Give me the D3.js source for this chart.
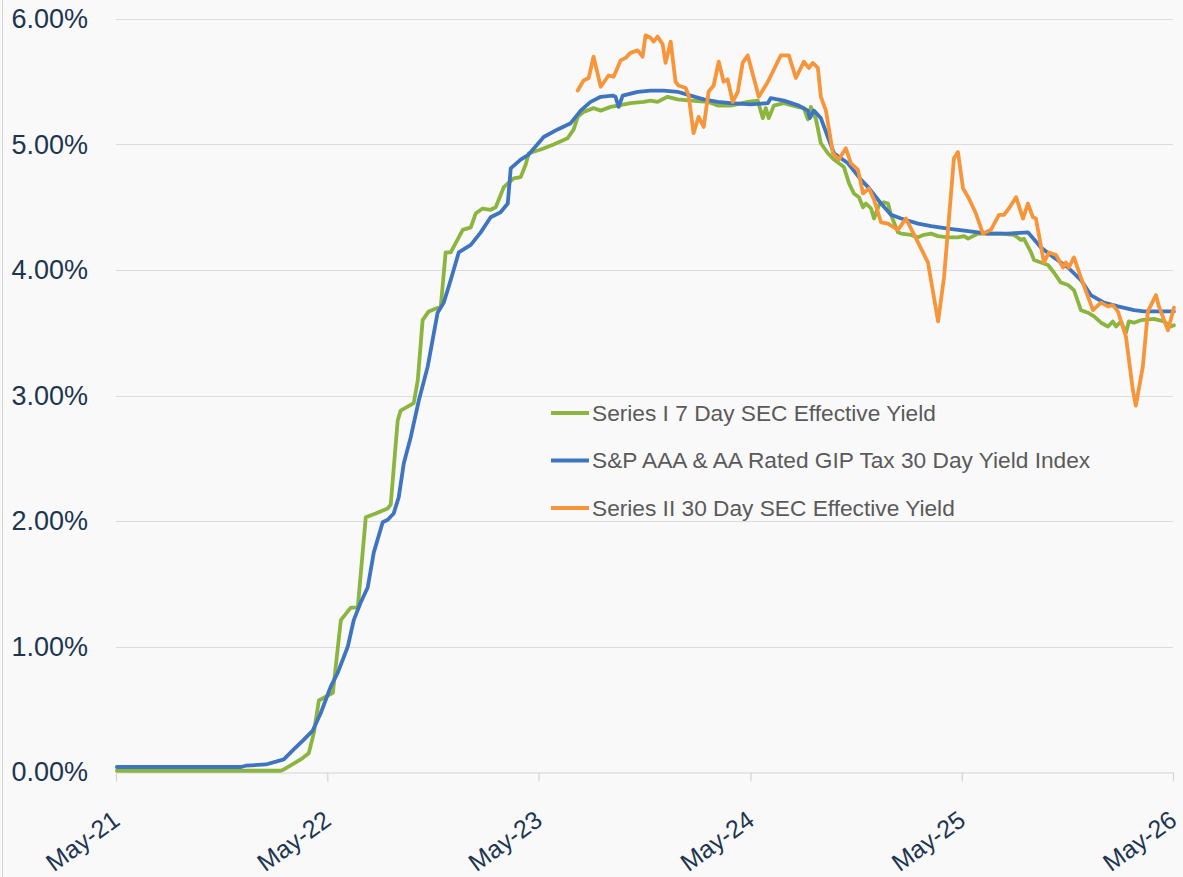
<!DOCTYPE html>
<html>
<head>
<meta charset="utf-8">
<script src="https://cdn.jsdelivr.net/npm/d3@7"></script>
<style>
  body { margin: 0; background: #f9f9f9; }
  svg { display: block; font-family: "Liberation Sans", Arial, sans-serif; }
</style>
</head>
<body>
<div id="chart"></div>
<script>
// Series names, in legend order
var seriesNames = [
  "Series I 7 Day SEC Effective Yield",
  "S&P AAA & AA Rated GIP Tax 30 Day Yield Index",
  "Series II 30 Day SEC Effective Yield"
];

// x axis ticks and y axis ticks (percent)
var tickDates = ["2021-05-01", "2022-05-01", "2023-05-01", "2024-05-01", "2025-05-01", "2026-05-01"];
var yTicks = [0, 1, 2, 3, 4, 5, 6];

// Series I 7 Day SEC yield: decimal years and yields (%)
var seriesIYears = [2021.333, 2022.109, 2022.123, 2022.203, 2022.241, 2022.265, 2022.289, 2022.355, 2022.393, 2022.440,
  2022.473, 2022.511, 2022.558, 2022.615, 2022.629, 2022.662, 2022.676, 2022.738, 2022.757, 2022.780,
  2022.809, 2022.866, 2022.889, 2022.913, 2022.970, 2023.008, 2023.031, 2023.064, 2023.102, 2023.126,
  2023.164, 2023.211, 2023.244, 2023.268, 2023.282, 2023.339, 2023.400, 2023.466, 2023.495, 2023.514,
  2023.542, 2023.589, 2023.623, 2023.670, 2023.703, 2023.764, 2023.826, 2023.859, 2023.892, 2023.939,
  2023.987, 2024.048, 2024.129, 2024.176, 2024.237, 2024.318, 2024.365, 2024.389, 2024.403, 2024.417,
  2024.441, 2024.488, 2024.554, 2024.583, 2024.602, 2024.616, 2024.640, 2024.663, 2024.696, 2024.725,
  2024.772, 2024.796, 2024.819, 2024.843, 2024.862, 2024.876, 2024.900, 2024.914, 2024.938, 2024.961,
  2024.980, 2024.994, 2025.027, 2025.042, 2025.089, 2025.122, 2025.150, 2025.184, 2025.217, 2025.264,
  2025.311, 2025.340, 2025.359, 2025.406, 2025.453, 2025.515, 2025.576, 2025.609, 2025.623, 2025.657,
  2025.671, 2025.704, 2025.737, 2025.765, 2025.798, 2025.832, 2025.860, 2025.893, 2025.926, 2025.955,
  2025.988, 2026.021, 2026.044, 2026.059, 2026.082, 2026.106, 2026.120, 2026.144, 2026.177, 2026.238,
  2026.286, 2026.319, 2026.333];
var seriesIValues = [0.01, 0.01, 0.02, 0.10, 0.15, 0.31, 0.57, 0.63, 1.21, 1.31,
  1.31, 2.03, 2.06, 2.10, 2.13, 2.80, 2.88, 2.94, 3.12, 3.60,
  3.67, 3.71, 4.14, 4.14, 4.32, 4.34, 4.45, 4.49, 4.48, 4.50,
  4.66, 4.73, 4.74, 4.84, 4.93, 4.96, 5.00, 5.05, 5.12, 5.22,
  5.26, 5.29, 5.27, 5.30, 5.31, 5.33, 5.34, 5.35, 5.34, 5.38,
  5.36, 5.35, 5.34, 5.31, 5.31, 5.34, 5.35, 5.21, 5.29, 5.21,
  5.31, 5.33, 5.30, 5.29, 5.20, 5.30, 5.20, 5.01, 4.93, 4.88,
  4.82, 4.69, 4.61, 4.58, 4.50, 4.53, 4.49, 4.41, 4.52, 4.54,
  4.53, 4.44, 4.30, 4.29, 4.28, 4.26, 4.28, 4.29, 4.27, 4.26,
  4.26, 4.27, 4.25, 4.29, 4.29, 4.29, 4.28, 4.24, 4.25, 4.14,
  4.08, 4.06, 4.04, 3.98, 3.90, 3.88, 3.84, 3.68, 3.66, 3.63,
  3.58, 3.55, 3.59, 3.55, 3.59, 3.50, 3.59, 3.58, 3.60, 3.61,
  3.59, 3.55, 3.56];

// S&P AAA & AA Rated GIP index
var indexYears = [2021.333, 2021.920, 2021.943, 2022.038, 2022.123, 2022.170, 2022.213, 2022.260, 2022.298, 2022.345,
  2022.378, 2022.426, 2022.454, 2022.487, 2022.520, 2022.549, 2022.591, 2022.615, 2022.643, 2022.667,
  2022.691, 2022.724, 2022.762, 2022.804, 2022.851, 2022.880, 2022.913, 2022.951, 2023.008, 2023.055,
  2023.102, 2023.149, 2023.183, 2023.197, 2023.244, 2023.282, 2023.353, 2023.419, 2023.481, 2023.528,
  2023.575, 2023.623, 2023.679, 2023.693, 2023.708, 2023.727, 2023.798, 2023.859, 2023.921, 2023.987,
  2024.048, 2024.110, 2024.176, 2024.237, 2024.332, 2024.413, 2024.427, 2024.488, 2024.559, 2024.602,
  2024.611, 2024.630, 2024.663, 2024.696, 2024.725, 2024.791, 2024.852, 2024.886, 2024.947, 2024.994,
  2025.042, 2025.122, 2025.184, 2025.264, 2025.359, 2025.453, 2025.548, 2025.642, 2025.704, 2025.765,
  2025.832, 2025.893, 2025.940, 2026.002, 2026.068, 2026.144, 2026.191, 2026.333];
var indexValues = [0.04, 0.04, 0.05, 0.06, 0.10, 0.18, 0.25, 0.33, 0.47, 0.68,
  0.79, 1.00, 1.21, 1.35, 1.47, 1.75, 1.99, 2.01, 2.06, 2.19,
  2.46, 2.67, 2.96, 3.23, 3.66, 3.74, 3.92, 4.14, 4.20, 4.30,
  4.42, 4.46, 4.53, 4.81, 4.88, 4.92, 5.06, 5.12, 5.17, 5.27,
  5.34, 5.38, 5.39, 5.38, 5.30, 5.39, 5.42, 5.43, 5.43, 5.42,
  5.39, 5.36, 5.34, 5.33, 5.32, 5.33, 5.37, 5.35, 5.31, 5.27,
  5.21, 5.27, 5.21, 5.06, 4.93, 4.85, 4.72, 4.66, 4.53, 4.44,
  4.41, 4.37, 4.35, 4.33, 4.31, 4.29, 4.29, 4.30, 4.18, 4.10,
  4.02, 3.92, 3.80, 3.74, 3.71, 3.68, 3.67, 3.67];

// Series II 30 Day SEC yield (starts spring 2023)
var seriesIIYears = [2023.514, 2023.542, 2023.566, 2023.589, 2023.623, 2023.660, 2023.684, 2023.717, 2023.741, 2023.764,
  2023.798, 2023.821, 2023.835, 2023.859, 2023.873, 2023.892, 2023.916, 2023.930, 2023.954, 2023.977,
  2023.991, 2024.025, 2024.039, 2024.062, 2024.086, 2024.110, 2024.133, 2024.157, 2024.181, 2024.204,
  2024.223, 2024.247, 2024.271, 2024.294, 2024.318, 2024.370, 2024.413, 2024.474, 2024.512, 2024.545,
  2024.583, 2024.606, 2024.625, 2024.649, 2024.663, 2024.687, 2024.720, 2024.748, 2024.781, 2024.805,
  2024.838, 2024.862, 2024.890, 2024.914, 2024.947, 2024.980, 2025.027, 2025.065, 2025.122, 2025.169,
  2025.217, 2025.245, 2025.292, 2025.311, 2025.335, 2025.363, 2025.396, 2025.429, 2025.467, 2025.505,
  2025.529, 2025.552, 2025.586, 2025.619, 2025.642, 2025.666, 2025.680, 2025.718, 2025.742, 2025.775,
  2025.808, 2025.822, 2025.836, 2025.860, 2025.893, 2025.950, 2025.988, 2026.021, 2026.044, 2026.068,
  2026.106, 2026.139, 2026.153, 2026.186, 2026.210, 2026.248, 2026.262, 2026.305, 2026.333];
var seriesIIValues = [5.43, 5.51, 5.53, 5.70, 5.46, 5.55, 5.54, 5.67, 5.69, 5.73,
  5.75, 5.70, 5.87, 5.85, 5.82, 5.86, 5.80, 5.65, 5.82, 5.50,
  5.47, 5.45, 5.39, 5.09, 5.22, 5.14, 5.42, 5.47, 5.66, 5.50,
  5.52, 5.34, 5.42, 5.65, 5.71, 5.38, 5.50, 5.71, 5.71, 5.53,
  5.66, 5.61, 5.65, 5.61, 5.38, 5.27, 4.93, 4.88, 4.97, 4.85,
  4.80, 4.61, 4.65, 4.56, 4.38, 4.37, 4.32, 4.41, 4.22, 4.06,
  3.59, 3.94, 4.89, 4.94, 4.65, 4.57, 4.45, 4.29, 4.32, 4.44,
  4.44, 4.49, 4.58, 4.41, 4.53, 4.42, 4.41, 4.06, 4.14, 4.12,
  4.02, 4.06, 4.02, 4.10, 3.94, 3.68, 3.74, 3.71, 3.72, 3.67,
  3.47, 3.04, 2.92, 3.23, 3.67, 3.80, 3.71, 3.52, 3.70];

var colors = ["#8cb53f", "#3f74c1", "#f7953a"];

var width = 1183, height = 877;
var margin = {top: 19, right: 10, bottom: 105, left: 116};

// decimal year -> UTC date
function yearToDate(t) {
  var y = Math.floor(t);
  var start = Date.UTC(y, 0, 1), end = Date.UTC(y + 1, 0, 1);
  return new Date(start + (t - y) * (end - start));
}

function zipSeries(years, values) {
  return years.map(function(t, i) { return {date: yearToDate(t), value: values[i]}; });
}

var series = [
  zipSeries(seriesIYears, seriesIValues),
  zipSeries(indexYears, indexValues),
  zipSeries(seriesIIYears, seriesIIValues)
];

var svg = d3.select("#chart").append("svg")
  .attr("width", width)
  .attr("height", height);

// left edge line
svg.append("line")
  .attr("x1", 2.5).attr("x2", 2.5)
  .attr("y1", 0).attr("y2", height)
  .attr("stroke", "#d4d4d4");

var parseDate = d3.utcParse("%Y-%m-%d");
var ticks = tickDates.map(parseDate);

var x = d3.scaleUtc()
  .domain([ticks[0], ticks[ticks.length - 1]])
  .range([margin.left, width - margin.right]);

var y = d3.scaleLinear()
  .domain([0, 6])
  .range([height - margin.bottom, margin.top]);

// horizontal gridlines
svg.append("g")
  .selectAll("line")
  .data(yTicks.filter(function(d) { return d > 0; }))
  .enter().append("line")
  .attr("x1", x.range()[0]).attr("x2", x.range()[1])
  .attr("y1", function(d) { return Math.round(y(d)) + 0.5; })
  .attr("y2", function(d) { return Math.round(y(d)) + 0.5; })
  .attr("stroke", "#dcdcdc")
  .attr("stroke-width", 1.2);

// y axis labels
var yAxis = d3.axisLeft(y)
  .tickValues(yTicks)
  .tickSize(0)
  .tickPadding(0)
  .tickFormat(function(d) { return d3.format(".2f")(d) + "%"; });

svg.append("g")
  .attr("transform", "translate(88,0)")
  .call(yAxis)
  .call(function(g) { g.select(".domain").remove(); })
  .selectAll("text")
  .attr("font-size", "27px")
  .attr("font-family", "'Liberation Sans', Arial, sans-serif")
  .attr("fill", "#1e3550");

// x axis
var xAxis = d3.axisBottom(x)
  .tickValues(ticks)
  .tickSize(9)
  .tickSizeOuter(0)
  .tickFormat(d3.utcFormat("%b-%y"));

var xg = svg.append("g")
  .attr("transform", "translate(0," + (Math.round(y(0)) + 0.5) + ")")
  .call(xAxis);

xg.select(".domain").attr("stroke", "#d4d4d4").attr("stroke-width", 1.2);
xg.selectAll(".tick line").attr("stroke", "#d4d4d4").attr("stroke-width", 1.2);
xg.selectAll(".tick text")
  .attr("font-size", "25px")
  .attr("font-family", "'Liberation Sans', Arial, sans-serif")
  .attr("fill", "#1e3550")
  .attr("text-anchor", "end")
  .attr("dy", 0)
  .attr("y", 0)
  .attr("transform", "translate(5,51) rotate(-36)");

// series lines
var line = d3.line()
  .x(function(d) { return x(d.date); })
  .y(function(d) { return y(d.value); });

svg.append("g")
  .selectAll("path")
  .data(series)
  .enter().append("path")
  .attr("d", line)
  .attr("fill", "none")
  .attr("stroke", function(d, i) { return colors[i]; })
  .attr("stroke-width", 3.8)
  .attr("stroke-linejoin", "round")
  .attr("stroke-linecap", "round");

// legend
var legend = svg.append("g")
  .attr("transform", "translate(551,413)");

var items = legend.selectAll("g")
  .data(seriesNames)
  .enter().append("g")
  .attr("transform", function(d, i) { return "translate(0," + (i * 47.5) + ")"; });

items.append("line")
  .attr("x1", 0).attr("x2", 38)
  .attr("stroke", function(d, i) { return colors[i]; })
  .attr("stroke-width", 3.8);

items.append("text")
  .attr("x", 41)
  .attr("dy", "0.35em")
  .attr("font-size", "22.7px")
  .attr("fill", "#5a5a5a")
  .text(function(d) { return d; });
</script>
</body>
</html>
